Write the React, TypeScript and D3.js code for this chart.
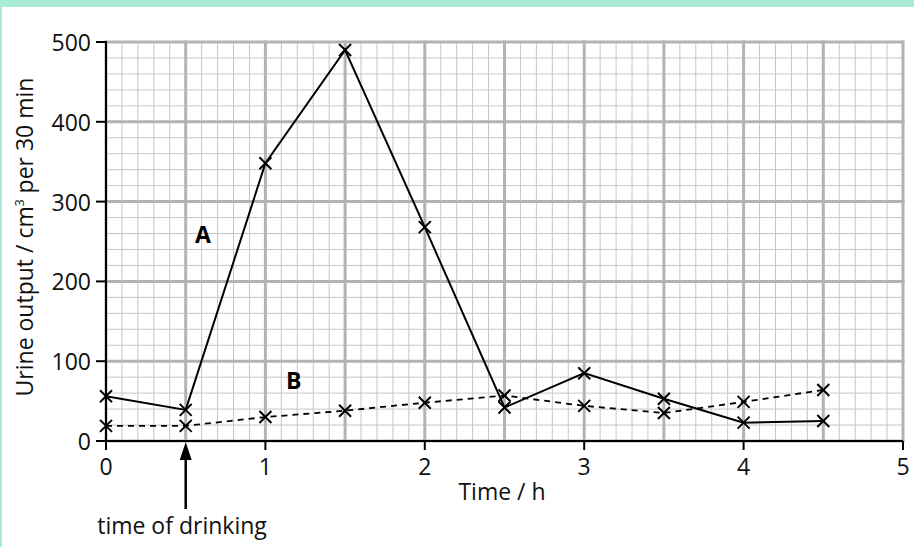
import React from "react";
import * as d3 from "d3";

const times = [0, 0.5, 1, 1.5, 2, 2.5, 3, 3.5, 4, 4.5];
const seriesA = [56, 39, 348, 490, 268, 42, 85, 53, 23, 25];
const seriesB = [19, 19, 30, 38, 48, 57, 44, 35, 49, 64];
const xTicks = [0, 1, 2, 3, 4, 5];
const yTicks = [0, 100, 200, 300, 400, 500];

const W = 914, H = 547;
const FONT = "'Open Sans', 'Noto Sans', sans-serif";

export default function App() {
  const x = d3.scaleLinear().domain([0, 5]).range([106, 903]);
  const y = d3.scaleLinear().domain([0, 500]).range([441, 42]);
  const minorX = d3.range(0, 51).map((i) => i / 10);
  const minorY = d3.range(0, 26).map((i) => i * 20);
  const majorX = d3.range(0, 11).map((i) => i / 2);
  const majorY = d3.range(0, 6).map((i) => i * 100);
  const line = d3.line<number>().x((_, i) => x(times[i])).y((d) => y(d));
  const cross = (cx: number, cy: number, k: string) => (
    <g key={k} stroke="#000" strokeWidth={2}>
      <line x1={cx - 6} y1={cy - 6} x2={cx + 6} y2={cy + 6} />
      <line x1={cx - 6} y1={cy + 6} x2={cx + 6} y2={cy - 6} />
    </g>
  );
  return (
    <svg width={W} height={H} style={{ position: "absolute", left: 0, top: 0, background: "#fff" }} fontFamily={FONT}>
      <rect x={0} y={0} width={W} height={H} fill="#fff" />
      <rect x={0} y={0} width={W} height={7} fill="#abecd8" />
      <rect x={0} y={0} width={2} height={H} fill="#abecd8" />
      {/* grid */}
      <g stroke="#c6c6c6" strokeWidth={1}>
        {minorX.map((t, i) => (
          <line key={"mx" + i} x1={x(t)} x2={x(t)} y1={y(0)} y2={y(500)} />
        ))}
        {minorY.map((v, i) => (
          <line key={"my" + i} x1={x(0)} x2={x(5)} y1={y(v)} y2={y(v)} />
        ))}
      </g>
      <g stroke="#b3b3b3" strokeWidth={3}>
        {majorX.map((t, i) => (
          <line key={"Mx" + i} x1={x(t)} x2={x(t)} y1={y(0)} y2={y(500) - 1.5} />
        ))}
        {majorY.map((v, i) => (
          <line key={"My" + i} x1={x(0)} x2={x(5) + 1.5} y1={y(v)} y2={y(v)} />
        ))}
      </g>
      {/* axes */}
      <g stroke="#000" strokeWidth={2}>
        <line x1={x(0)} x2={x(0)} y1={y(500) - 1} y2={y(0) + 8} />
        <line x1={x(0) - 9} x2={x(5)} y1={y(0)} y2={y(0)} />
        {yTicks.map((v) => (
          <line key={"yt" + v} x1={x(0) - 10} x2={x(0)} y1={y(v)} y2={y(v)} />
        ))}
        {xTicks.map((t) => (
          <line key={"xt" + t} x1={x(t)} x2={x(t)} y1={y(0)} y2={y(0) + 9} />
        ))}
      </g>
      <g fontSize={23} fill="#111">
        {yTicks.map((v) => (
          <text key={"yl" + v} x={x(0) - 15} y={y(v) + 9} textAnchor="end">{v}</text>
        ))}
        {xTicks.map((t) => (
          <text key={"xl" + t} x={x(t)} y={y(0) + 34} textAnchor="middle">{t}</text>
        ))}
        <text x={502} y={500} textAnchor="middle">Time / h</text>
        <text transform={`translate(33,237) rotate(-90)`} textAnchor="middle">
          Urine output / cm<tspan fontSize={12} dy={-9}>3</tspan><tspan dy={9}> per 30 min</tspan>
        </text>
        <text x={182} y={534} textAnchor="middle">time of drinking</text>
      </g>
      {/* series */}
      <path d={line(seriesB) || ""} fill="none" stroke="#000" strokeWidth={1.8} strokeDasharray="6,5" />
      <path d={line(seriesA) || ""} fill="none" stroke="#000" strokeWidth={2} />
      {seriesB.map((v, i) => cross(x(times[i]), y(v), "b" + i))}
      {seriesA.map((v, i) => cross(x(times[i]), y(v), "a" + i))}
      <g fontSize={23} fontWeight="bold" fill="#000">
        <text x={195} y={243}>A</text>
        <text x={286} y={389}>B</text>
      </g>
      {/* arrow */}
      <line x1={x(0.5)} x2={x(0.5)} y1={509} y2={456} stroke="#000" strokeWidth={2.5} />
      <path d={`M${x(0.5)},442 L${x(0.5) - 6},460 L${x(0.5) + 6},460 Z`} fill="#000" />
    </svg>
  );
}
